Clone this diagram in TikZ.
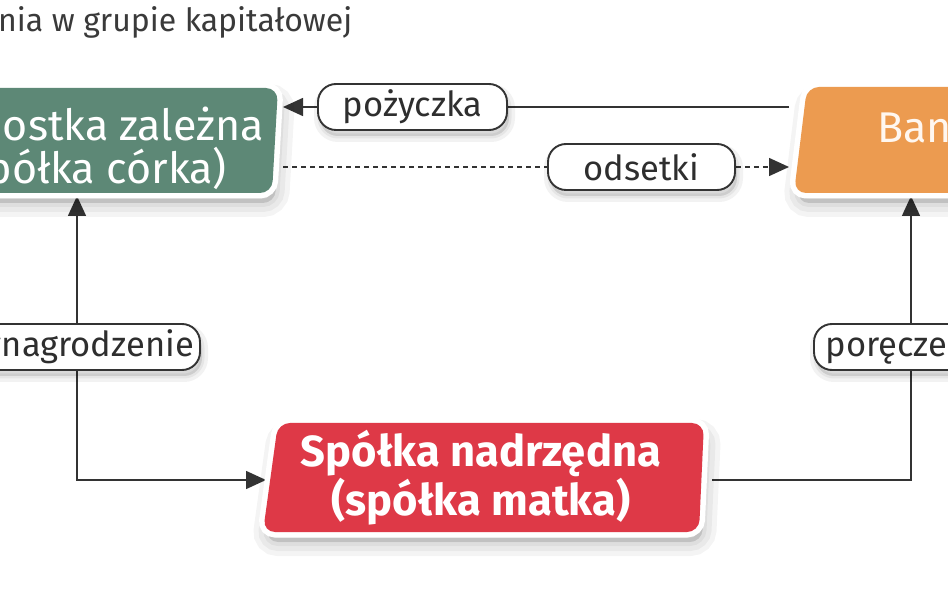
\documentclass[tikz,border=0pt]{standalone}
\usepackage{fontspec}
\setmainfont{Fira Sans}
\usetikzlibrary{arrows.meta}
\pgfdeclarelayer{bg}
\pgfdeclarelayer{canvas}
\pgfsetlayers{canvas,bg,main}
\definecolor{boxgreen}{HTML}{5D8876}
\definecolor{boxorange}{HTML}{EC9B50}
\definecolor{boxred}{HTML}{DE3947}
\definecolor{linec}{HTML}{333333}
\definecolor{textc}{HTML}{2E2E2E}
\definecolor{titlec}{HTML}{3A3A3A}
\tikzset{
  greenpath/.style={insert path={(-230,88) -- (278,88) -- (272,193) -- (-236,193) -- cycle}},
  bankpath/.style={insert path={(807,87) -- (1200,87) -- (1190,193) -- (794,193) -- cycle}},
  redpath/.style={insert path={(278,423) -- (704,423) -- (699,532) -- (263,532) -- cycle}},
  shadowlayer/.style={preaction={fill=black, draw=black, opacity=0.045, line width=#1,
      transform canvas={shift={(3pt,-10pt)}}}},
  boxshadow/.style={shadowlayer=28pt, shadowlayer=18pt, shadowlayer=8pt},
  whiteedge/.style={preaction={draw=white, fill=white, line width=11pt}},
  boxshape/.style={boxshadow, whiteedge, rounded corners=12pt},
  pillshadow/.style={preaction={fill=black, draw=black, opacity=0.05, line width=#1,
      transform canvas={shift={(2pt,-6pt)}}}},
  pill/.style={draw=linec, line width=1.9pt, fill=white, rounded corners=18pt,
    minimum height=46pt, inner sep=0pt, text=textc,
    font=\fontsize{34.5}{36}\selectfont,
    pillshadow=12pt, pillshadow=5pt},
  anchorbox/.style={inner sep=0pt, outer sep=0pt, draw=none, fill=none},
  boxtext/.style={inner sep=0pt, text=white, align=center},
  conn/.style={draw=linec, line width=1.5pt},
  tip/.style={-{Triangle[length=20pt,width=18pt]}},
}
\begin{document}
\begin{tikzpicture}[x=1pt,y=-1pt]
\useasboundingbox (0,0) rectangle (948,593);
\begin{pgfonlayer}{canvas}
\fill[white] (0,0) rectangle (948,593);
\end{pgfonlayer}

% title
\node[anchor=base west, inner sep=0pt, text=titlec, font=\fontsize{32}{34}\selectfont] (title) at (-2,32) {nia w grupie kapitałowej};

% boxes
\path[boxshape, fill=boxgreen, greenpath];
\path[boxshape, fill=boxorange, bankpath];
\path[boxshape, fill=boxred, redpath];

\node[anchorbox, minimum width=513pt, minimum height=109pt] (green) at (26.5,141.5) {};
\node[anchorbox, minimum width=361pt, minimum height=111pt] (bank) at (969.5,140.5) {};
\node[anchorbox, minimum width=446pt, minimum height=118pt] (red) at (489,480) {};

\node[boxtext, anchor=east, font=\fontsize{43}{43}\selectfont] (greentext) at (264,150) {Jednostka zależna\\(spółka córka)};
\node[boxtext, anchor=base west, font=\fontsize{43}{43}\selectfont, text=white!94!orange] (banktext) at (877,143) {Bank};
\node[boxtext, font=\fontsize{43.5}{43}\selectfont\bfseries] (redtext) at (481,478) {Spółka nadrzędna\\(spółka matka)};

% pills
\node[pill, minimum width=189pt] (poz) at (412.5,107) {pożyczka};
\node[pill, minimum width=187pt] (ods) at (641.5,167) {odsetki};
\node[pill, minimum width=246pt] (wyn) at (77,347) {wynagrodzenie};
\node[pill, minimum width=194pt] (por) at (911,347) {poręczenie};

% connectors
\begin{pgfonlayer}{bg}
\draw[conn] (bank.west |- poz.east) -- (poz.east);
\draw[conn, tip] (poz.west) -- (poz.west -| green.east);
\draw[conn, dash pattern=on 5pt off 4pt] (green.east |- ods.west) -- (ods.west);
\draw[conn, dash pattern=on 5pt off 4pt, tip] (ods.east) -- (ods.east -| bank.west);
\draw[conn, tip] (wyn.center) -- (wyn.center |- green.south);
\draw[conn, tip] (wyn.center) -- (wyn.center |- red.west) -- (red.west);
\draw[conn, tip] (red.east) -- (red.east -| por.center) -- (por.center |- bank.south);
\end{pgfonlayer}
\end{tikzpicture}
\end{document}
